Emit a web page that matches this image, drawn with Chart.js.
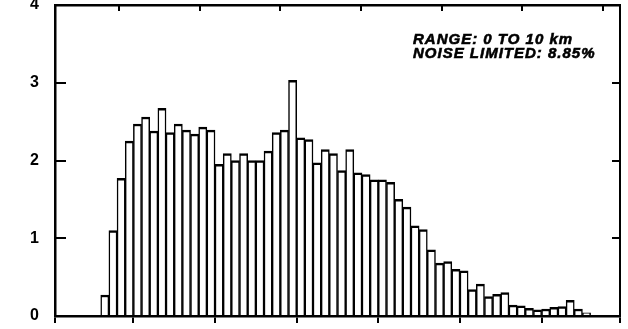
<!DOCTYPE html>
<html>
<head>
<meta charset="utf-8">
<style>
  html, body { margin: 0; padding: 0; background: #ffffff; }
  #wrap { width: 628px; height: 329px; position: relative; }
</style>
<script src="https://cdn.jsdelivr.net/npm/chart.js@4/dist/chart.umd.min.js"></script>
</head>
<body>
<div id="wrap"><canvas id="hist" width="628" height="329"></canvas></div>
<script>
// Histogram: percentage of samples in each bin (60 filled bins)
const percent = [
  0.27, 1.10, 1.77, 2.25, 2.47, 2.56, 2.38, 2.67, 2.36, 2.47,
  2.39, 2.34, 2.43, 2.39, 1.95, 2.09, 2.00, 2.09, 2.00, 2.00,
  2.12, 2.36, 2.39, 3.03, 2.29, 2.27, 1.97, 2.14, 2.09, 1.87,
  2.14, 1.84, 1.82, 1.75, 1.75, 1.72, 1.50, 1.40, 1.16, 1.11,
  0.85, 0.68, 0.70, 0.60, 0.58, 0.34, 0.41, 0.25, 0.28, 0.30,
  0.14, 0.13, 0.10, 0.08, 0.09, 0.11, 0.12, 0.20, 0.09, 0.04
];
// left edge of the first bin, in bin units from the first bottom tick
const firstBinEdge = -4;
// bottom axis: range and major ticks (bin units)
const binAxisRange = [-9.6, 59.6];
const binTicks = [0, 10, 20, 30, 40, 50];
// top axis: secondary scale, range and ticks
const topAxisRange = [-0.793, 6.21];
const topTicks = [0, 1, 2, 3, 4, 5, 6];
// vertical axis
const percentTicks = [0, 1, 2, 3, 4];
const annotationLines = ['RANGE: 0 TO 10 km', 'NOISE LIMITED: 8.85%'];

const points = percent.map((v, i) => ({ x: firstBinEdge + i + 0.5, y: v }));

// Two-line note in the upper right of the plot
const annotationPlugin = {
  id: 'rangeNote',
  afterDatasetsDraw(chart) {
    const { ctx, chartArea } = chart;
    ctx.save();
    ctx.fillStyle = '#000';
    ctx.strokeStyle = '#000';
    ctx.lineWidth = 0.6;
    ctx.font = 'italic bold 15px "Liberation Sans", Arial, sans-serif';
    ctx.letterSpacing = '1px';
    ctx.textAlign = 'left';
    ctx.textBaseline = 'alphabetic';
    const x = chartArea.left + 358;
    const rows = [chartArea.top + 38.5, chartArea.top + 52.5];
    annotationLines.forEach((t, i) => {
      ctx.fillText(t, x, rows[i]);
      ctx.strokeText(t, x, rows[i]);
    });
    ctx.restore();
  }
};

const setTicks = (list) => (scale) => {
  scale.ticks = list.map(v => ({ value: v }));
};

new Chart(document.getElementById('hist'), {
  type: 'bar',
  data: {
    datasets: [{
      data: points,
      backgroundColor: '#ffffff',
      borderColor: '#000000',
      borderWidth: { top: 2.5, left: 1.5, right: 1.5, bottom: 0 },
      borderSkipped: 'start',
      barPercentage: 1,
      categoryPercentage: 1,
      xAxisID: 'x',
      yAxisID: 'y'
    }]
  },
  options: {
    responsive: false,
    animation: false,
    devicePixelRatio: 1,
    layout: { padding: 0 },
    plugins: {
      legend: { display: false },
      tooltip: { enabled: false },
      title: { display: false }
    },
    scales: {
      x: {
        type: 'linear',
        position: 'bottom',
        min: binAxisRange[0],
        max: binAxisRange[1],
        offset: false,
        z: 1,
        afterBuildTicks: (s) => {
          s.ticks = [s.min, ...binTicks, s.max].map(v => ({ value: v }));
        },
        afterFit: (s) => { s.height = 13; s.paddingLeft = 0; s.paddingRight = 0; },
        ticks: { display: false },
        grid: {
          offset: false,
          drawOnChartArea: false,
          drawTicks: true,
          tickLength: 7,
          color: '#000',
          lineWidth: 2
        },
        border: { display: true, color: '#000', width: 2.5 }
      },
      x2: {
        type: 'linear',
        position: 'top',
        min: topAxisRange[0],
        max: topAxisRange[1],
        offset: false,
        afterBuildTicks: setTicks(topTicks),
        afterFit: (s) => { s.height = 5; s.paddingLeft = 0; s.paddingRight = 0; },
        ticks: { display: false },
        grid: {
          offset: false,
          drawOnChartArea: false,
          drawTicks: true,
          tickLength: -6,
          color: '#000',
          lineWidth: 2
        },
        border: { display: true, color: '#000', width: 2.5 }
      },
      y: {
        type: 'linear',
        position: 'left',
        min: 0,
        max: 4,
        afterBuildTicks: setTicks(percentTicks),
        afterFit: (s) => { s.width = 55; s.paddingTop = 0; s.paddingBottom = 0; },
        ticks: {
          color: '#000',
          padding: 27,
          font: { family: '"Liberation Sans", Arial, sans-serif', size: 16, weight: 'bold' }
        },
        grid: {
          drawOnChartArea: false,
          drawTicks: true,
          tickLength: -11,
          color: '#000',
          lineWidth: 2
        },
        border: { display: true, color: '#000', width: 2.5 }
      },
      y2: {
        type: 'linear',
        position: 'right',
        min: 0,
        max: 4,
        afterBuildTicks: setTicks(percentTicks),
        afterFit: (s) => { s.width = 8; s.paddingTop = 0; s.paddingBottom = 0; },
        ticks: { display: false },
        grid: {
          drawOnChartArea: false,
          drawTicks: true,
          tickLength: -8,
          color: '#000',
          lineWidth: 2
        },
        border: { display: true, color: '#000', width: 2 }
      }
    }
  },
  plugins: [annotationPlugin]
});
</script>
</body>
</html>
